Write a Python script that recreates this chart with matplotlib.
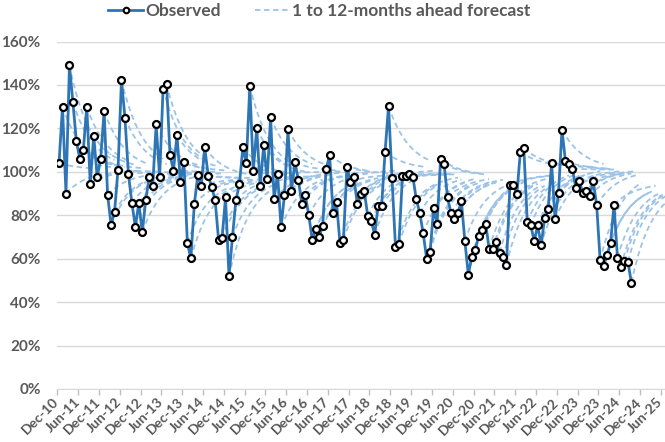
import matplotlib
matplotlib.use("Agg")
import matplotlib.pyplot as plt
import matplotlib.transforms as mtransforms
import numpy as np
from matplotlib.lines import Line2D

# ---- data ----
observed = [
    104, 130, 90, 149, 132, 114, 106, 110, 130, 94.5, 116.6, 97.6, 106, 128, 89.4, 75.6,
    81.4, 101, 142.3, 125, 99, 85.6, 74.8, 85.6, 72.2, 87, 97.7, 93.3, 121.8, 97.6, 138.3,
    140.4, 107.8, 100.6, 116.9, 95.4, 104.6, 67.3, 60.1, 85, 98.5, 93.5, 111.2, 98.3,
    93.1, 87, 68.5, 69.4, 88.2, 51.9, 70, 87, 94.2, 111.2, 104.1, 139.5, 100.5, 120, 93.3,
    112.2, 96.8, 125.1, 87.3, 99.1, 74.4, 89.4, 119.5, 91.2, 104.3, 96.3, 85.3, 89.4, 80,
    68.8, 73.5, 70.2, 75.1, 101.1, 107.8, 81.1, 86, 67.1, 68.7, 102.2, 95.5,
    97.7, 85, 90, 91.1, 79.7, 77.4, 71.1, 84.3, 84.3, 109.2, 130.3, 97, 65.3, 66.8, 98, 98,
    98.9, 97.7, 87.4, 81, 71.6, 59.8, 63.3, 83.3, 75.8, 106, 103.7, 88.2, 81, 78.1, 81.1,
    86.5, 68.1, 52.7, 61, 64.2, 70.5, 73.1, 76.2, 64.5, 64.5, 67.6, 62.8,
    60.8, 57.3, 94, 94, 89.9, 109.2, 110.8, 76.8, 75.3, 68.2, 75.3, 66.2, 78.7, 82.7, 103.9,
    78.2, 90.2, 119.4, 104.9, 103.4, 101.4, 92.5, 95.6, 90.2, 91, 88.7, 95.6, 84.7, 59.2,
    56.7, 61.9, 67, 84.8, 60.4, 56.4, 58.8, 58.7, 49,
]
# level that the dashed forecasts settle at, by year of forecast origin
forecast_years = [2010, 2011, 2012, 2013, 2014, 2015, 2016, 2017, 2018, 2019, 2020, 2021, 2022, 2023, 2024]
forecast_levels = [101, 101, 100, 100, 97, 98, 100, 99, 101, 99, 98, 99, 102, 101, 95]
forecast_damping = 0.85
horizon = 12

months = ["Jan", "Feb", "Mar", "Apr", "May", "Jun", "Jul", "Aug", "Sep", "Oct", "Nov", "Dec"]
n_cats = 175  # Dec-10 ... Jun-25
cat_labels = []
for i in range(n_cats):
    m = (11 + i) % 12
    y = 10 + (11 + i) // 12
    cat_labels.append(f"{months[m]}-{y:02d}")

# ---- figure ----
plt.rcParams['font.family'] = ['Lato', 'DejaVu Sans']
fig = plt.figure(figsize=(6.65, 4.42), dpi=100)
ax = fig.add_axes([57.3 / 665, 1 - 389 / 442, 1 - 57.3 / 665, (389 - 41.5) / 442])

gray = '#595959'
obs = np.array(observed, dtype=float)
x_obs = np.arange(len(obs))
lvl_map = dict(zip(forecast_years, forecast_levels))

for i, v in enumerate(obs):
    yr = 2010 + (i + 11) // 12
    L = lvl_map[yr]
    h = np.arange(horizon + 1)
    fc = L + (v - L) * forecast_damping ** h
    ax.plot(i + h, fc / 100, color='#9DC3E6', lw=1.3, ls=(0, (3, 2)), zorder=2, clip_on=True)

ax.plot(x_obs, obs / 100, color='#2E75B6', lw=2, marker='o', ms=5, mfc='white',
        mec='black', mew=1.6, zorder=4)

ax.set_ylim(0, 1.6)
ax.set_xlim(-0.5, 174.7)
yt = np.arange(0, 1.61, 0.2)
ax.set_yticks(yt)
ax.set_yticklabels([f"{int(round(t * 100))}%" for t in yt],
                   fontsize=11, fontweight='bold', color=gray)
ax.yaxis.grid(True, color='#D9D9D9', lw=1)
ax.set_axisbelow(True)
ax.tick_params(axis='y', length=0, pad=12)

major = np.arange(0, n_cats, 6)
ax.set_xticks(major)
ax.set_xticklabels([cat_labels[i] for i in major], rotation=45, ha='right', va='center',
                   rotation_mode='anchor', fontsize=10, fontweight='bold', color=gray)
ax.tick_params(axis='x', which='major', length=0, pad=8)
shift = mtransforms.ScaledTranslation(-2 / 100, 0, fig.dpi_scale_trans)
for lab in ax.get_xticklabels():
    lab.set_transform(lab.get_transform() + shift)
ax.set_xticks(major - 0.5, minor=True)
ax.tick_params(axis='x', which='minor', length=4, color='#BFBFBF', width=1)

for s in ['top', 'right', 'left']:
    ax.spines[s].set_visible(False)
ax.spines['bottom'].set_color('#D9D9D9')

handles = [
    Line2D([], [], color='#2E75B6', lw=2, marker='o', ms=4, mfc='white', mec='black', mew=1.5),
    Line2D([], [], color='#9DC3E6', lw=1.3, ls=(0, (3, 2))),
]
fig.legend(handles, ['Observed', '1 to 12-months ahead forecast'], loc='center',
           bbox_to_anchor=(0.48, 0.975), ncol=2, frameon=False,
           prop={'size': 12.5, 'weight': 'bold'}, labelcolor=gray,
           handlelength=2.0, handletextpad=0.1, columnspacing=2.0)

fig.savefig('out.png', dpi=100)
